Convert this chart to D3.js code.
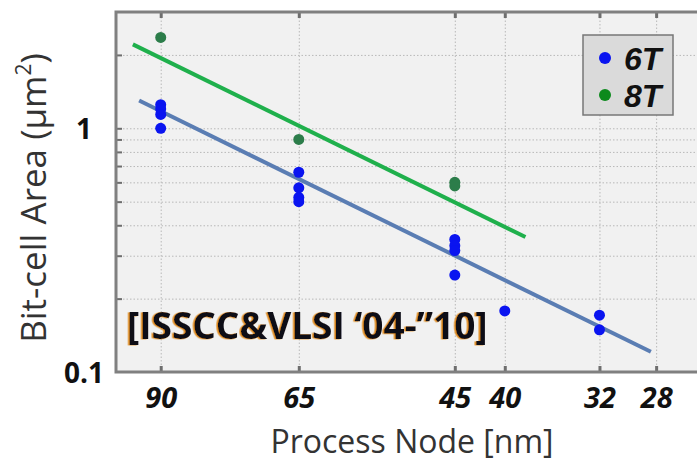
<!DOCTYPE html>
<html>
<head>
<meta charset="utf-8">
<script src="https://cdn.jsdelivr.net/npm/d3@7"></script>
<style>
  body { margin: 0; background: #fff; }
  svg { display: block; font-family: 'Open Sans', sans-serif; }
  .grid line { stroke: #b8b8b8; stroke-width: 1; stroke-dasharray: 1.5,2; }
  .grid path { display: none; }
</style>
</head>
<body>
<div id="svg"></div>
<script>
// 6T cells: node (nm) and bit-cell area (um^2)
let nodes6T = [90, 90, 90, 90, 65, 65, 65, 65, 45, 45, 45, 45, 40, 32, 32];
let area6T = [1.25, 1.20, 1.14, 1.00, 0.66, 0.57, 0.52, 0.50, 0.35, 0.33, 0.315, 0.25, 0.178, 0.171, 0.149];
// 8T cells
let nodes8T = [90, 65, 45, 45];
let area8T = [2.36, 0.90, 0.60, 0.58];
// trend line end points
let fitNodes6T = [94.7, 28.35];
let fitArea6T = [1.30, 0.121];
let fitNodes8T = [96.1, 38.1];
let fitArea8T = [2.21, 0.358];
// ticks
let xTicks = [90, 65, 45, 40, 32, 28];
let yLabels = [0.1, 1];
let yGrid = [0.2, 0.3, 0.4, 0.5, 0.6, 0.7, 0.8, 0.9, 1, 2];
let seriesNames = ['6T', '8T'];

let w = 697;
let h = 463;
let padLeft = 116, padTop = 12, padBottom = 372;

let svg = d3.select('#svg').
append('svg').
attr('width', w).
attr('height', h);

let xScale = d3.scaleLog().domain([100, 25]).range([padLeft, padLeft + 977 * Math.log10(4)]);
let yScale = d3.scaleLog().domain([0.1, 3]).range([padBottom, padTop]);
let padRight = xScale.range()[1];

// shadow for the annotation
let defs = svg.append('defs');
defs.append('filter').attr('id', 'shadow').
append('feDropShadow').
attr('dx', -1.6).attr('dy', 0.4).attr('stdDeviation', 0.4).
attr('flood-color', '#e08a1e').attr('flood-opacity', 1);

//plot background
svg.append('rect').
attr('x', padLeft).attr('y', padTop).
attr('width', padRight - padLeft).attr('height', padBottom - padTop).
attr('fill', '#f1f1f1');

//gridlines
svg.append('g').
attr('class', 'grid').
attr('transform', 'translate(0,' + padBottom + ')').
call(d3.axisBottom(xScale).tickValues(xTicks).tickSize(-(padBottom - padTop)).tickFormat(''));

svg.append('g').
attr('class', 'grid').
attr('transform', 'translate(' + padLeft + ',0)').
call(d3.axisLeft(yScale).tickValues(yGrid).tickSize(-(padRight - padLeft)).tickFormat(''));

//small tick marks on the frame
let tickCol = '#6e6e6e';
svg.append('g').
attr('transform', 'translate(0,' + padBottom + ')').
call(d3.axisBottom(xScale).tickValues(xTicks).tickSize(-6).tickFormat('')).
call(g => g.select('.domain').remove()).
selectAll('line').attr('stroke', tickCol).attr('stroke-width', 3);

svg.append('g').
attr('transform', 'translate(0,' + padTop + ')').
call(d3.axisTop(xScale).tickValues(xTicks).tickSize(-6).tickFormat('')).
call(g => g.select('.domain').remove()).
selectAll('line').attr('stroke', tickCol).attr('stroke-width', 3);

svg.append('g').
attr('transform', 'translate(' + padLeft + ',0)').
call(d3.axisLeft(yScale).tickValues(yGrid).tickSize(-6).tickFormat('')).
call(g => g.select('.domain').remove()).
selectAll('line').attr('stroke', tickCol).attr('stroke-width', 2);

//frame
svg.append('path').
attr('d', 'M' + padRight + ',' + padTop + 'H' + padLeft + 'V' + padBottom + 'H' + padRight).
attr('fill', 'none').
attr('stroke', '#808080').
attr('stroke-width', 3);

//tick labels
let xLab = svg.append('g').
attr('transform', 'translate(0,' + padBottom + ')').
call(d3.axisBottom(xScale).tickValues(xTicks).tickSize(0).tickFormat(d3.format('d')));
xLab.select('.domain').remove();
xLab.selectAll('text').
attr('y', 36).attr('dy', 0).
attr('font-family', 'Open Sans').
attr('font-size', 29).
attr('font-weight', 'bold').
attr('font-style', 'italic').
attr('fill', '#111');

let yLab = svg.append('g').
attr('transform', 'translate(' + padLeft + ',0)').
call(d3.axisLeft(yScale).tickValues(yLabels).tickSize(0).tickFormat(d => d));
yLab.select('.domain').remove();
yLab.selectAll('text').
attr('x', -32).attr('dy', '0.36em').
attr('text-anchor', 'middle').
attr('font-family', 'Open Sans').
attr('font-size', 28).
attr('font-weight', 'bold').
attr('fill', '#111');

//axis titles
svg.append('text').
attr('x', 412).attr('y', 453).
attr('text-anchor', 'middle').
attr('font-size', 32).
attr('fill', '#333').
text('Process Node [nm]');

let yTitle = svg.append('text').
attr('transform', 'translate(46,198) rotate(-90)').
attr('text-anchor', 'middle').
attr('font-size', 35).
attr('fill', '#333');
yTitle.append('tspan').text('Bit-cell Area (μm');
yTitle.append('tspan').attr('font-size', 21).attr('dy', -15).text('2');
yTitle.append('tspan').attr('dy', 15).text(')');

//trend lines
let line = d3.line().x(d => xScale(d[0])).y(d => yScale(d[1]));
svg.append('path').
datum(d3.zip(fitNodes8T, fitArea8T)).
attr('d', line).
attr('fill', 'none').
attr('stroke', '#1fb04c').
attr('stroke-width', 4);

svg.append('path').
datum(d3.zip(fitNodes6T, fitArea6T)).
attr('d', line).
attr('fill', 'none').
attr('stroke', '#5a7db3').
attr('stroke-width', 4);

//points
svg.append('g').selectAll('circle').
data(d3.zip(nodes8T, area8T)).
enter().
append('circle').
attr('cx', d => xScale(d[0])).
attr('cy', d => yScale(d[1])).
attr('r', 5.5).
attr('fill', '#2c7d4a');

svg.append('g').selectAll('circle').
data(d3.zip(nodes6T, area6T)).
enter().
append('circle').
attr('cx', d => xScale(d[0])).
attr('cy', d => yScale(d[1])).
attr('r', 5.5).
attr('fill', '#0a14f0');

//annotation
svg.append('text').
attr('x', 127).attr('y', 339).
attr('font-size', 37).
attr('font-weight', 'bold').
attr('fill', '#101018').
attr('filter', 'url(#shadow)').
text('[ISSCC&VLSI ‘04-”10]');

//legend
let legend = svg.append('g').attr('transform', 'translate(583,35)');
legend.append('rect').
attr('width', 90).attr('height', 80).
attr('fill', '#dadada').
attr('stroke', '#777').
attr('stroke-width', 1.5);

let legendColors = ['#0a14f0', '#0c8a1c'];
let item = legend.selectAll('g.item').
data(seriesNames).
enter().
append('g').
attr('class', 'item').
attr('transform', (d, i) => 'translate(0,' + (23 + i * 37) + ')');
item.append('circle').
attr('cx', 22).attr('r', 6).
attr('fill', (d, i) => legendColors[i]);
item.append('text').
attr('x', 41).attr('dy', '0.36em').
attr('font-family', 'Liberation Sans').
attr('font-size', 32).
attr('font-weight', 'bold').
attr('font-style', 'italic').
attr('fill', '#111').
text(d => d);
</script>
</body>
</html>
